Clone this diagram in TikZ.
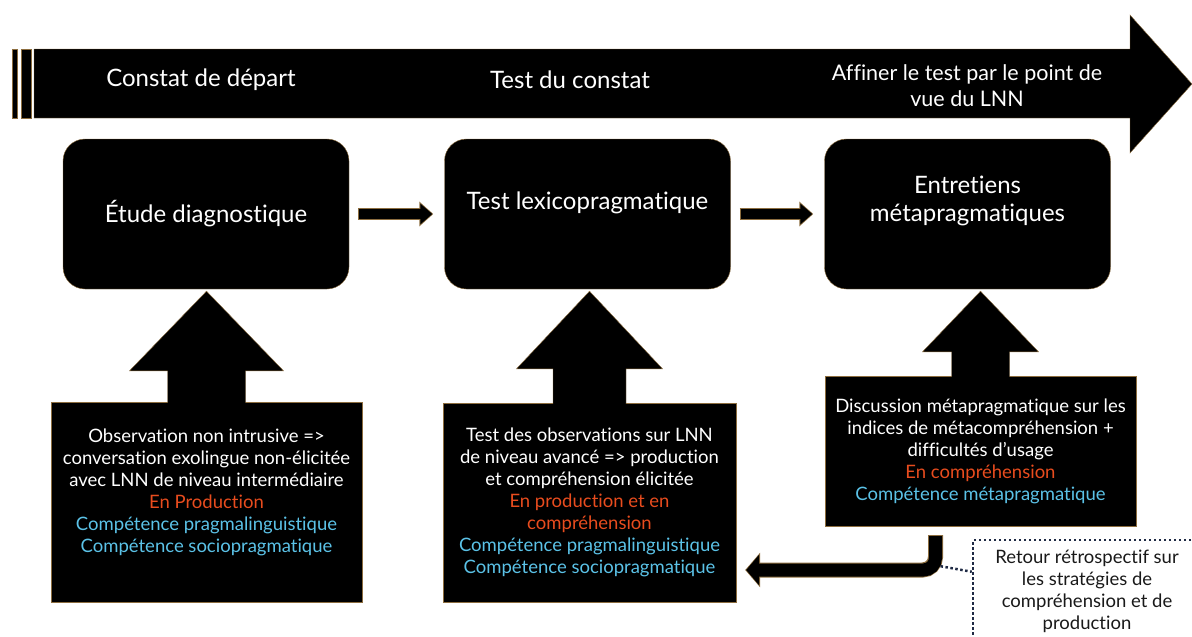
\documentclass[tikz,border=0pt]{standalone}
\usepackage{fontspec}
\setmainfont{Lato}[Ligatures=NoCommon]
\usepackage{xcolor}
\usetikzlibrary{calc, arrows.meta, positioning}

\definecolor{rim}{HTML}{8C6D3F}
\definecolor{prodred}{HTML}{E84C1E}
\definecolor{compblue}{HTML}{5BC2E7}
\definecolor{navy}{HTML}{1F2A44}

\begin{document}
\begin{tikzpicture}[x=1pt, y=-1pt,
  bandtext/.style={text=white, font=\fontsize{24}{26}\selectfont, align=center},
  steptext/.style={text=white, font=\fontsize{24}{28}\selectfont, align=center},
  stepbox/.style={draw=rim, fill=black, rounded corners=22pt, minimum width=286pt,
    minimum height=150pt, steptext},
  infotext/.style={text=white, font=\fontsize{18.5}{22}\selectfont, align=center},
  infobox/.style={draw=rim, fill=black, inner sep=0pt, infotext},
  notebox/.style={draw=navy, line width=2.5pt, dash pattern=on 2.5pt off 2.5pt,
    minimum width=228pt, minimum height=102pt, text=black!90,
    font=\fontsize{18.5}{22}\selectfont, align=center},
  fat/.style={line width=10pt, -{Triangle[length=12pt, width=20pt]},
    shorten <=10pt, shorten >=12pt},
  fatrim/.style={draw=rim, line width=12pt, -{Triangle[length=14pt, width=24pt]},
    shorten <=9pt, shorten >=11pt},
  back/.style={line width=13pt, rounded corners=12pt, -{Triangle[length=13pt, width=30pt]}},
  backrim/.style={draw=rim, line width=15pt, rounded corners=13pt,
    -{Triangle[length=15pt, width=34pt]}, shorten <=-1pt, shorten >=-1pt},
  note/.style={draw=navy, line width=2.5pt, dash pattern=on 2.5pt off 2.5pt}
]

  % Fix the page to the reference size
  \useasboundingbox (0,0) rectangle (1192,637);

  % Timeline band across the top
  \fill[black, draw=rim] (12,49) rectangle (17,118);
  \fill[black, draw=rim] (21,49) rectangle (31,118);
  \fill[black, draw=rim] (34,49) -- (1130,49) -- (1130,15) -- (1192,84)
    -- (1130,153) -- (1130,118) -- (34,118) -- cycle;

  \node[bandtext] (start)  at (201,80) {Constat de départ};
  \node[bandtext] (check)  at (570,80) {Test du constat};
  \node[bandtext, font=\fontsize{21.5}{26}\selectfont] (refine) at (967,86)
    {Affiner le test par le point de\\vue du LNN};

  % The three stages
  \node[stepbox] (diag) at (206,214) {Étude diagnostique};
  \node[stepbox, label={[steptext, yshift=11pt]center:Test lexicopragmatique}] (lexi) at (587.5,214) {};
  \node[stepbox, label={[steptext, yshift=13pt]center:Entretiens\\métapragmatiques}] (meta) at (967.5,214) {};

  % Arrows between the stages
  \foreach \a/\b in {diag/lexi, lexi/meta} {
    \draw[fatrim] (\a) -- (\b);
    \draw[fat] (\a) -- (\b);
  }

  % Details under each stage
  \node[infobox, minimum width=311pt, minimum height=200pt,
    label={[infotext, yshift=10pt]center:Observation non intrusive =>\\conversation exolingue non-élicitée\\avec LNN de niveau intermédiaire\\
     \textcolor{prodred}{En Production}\\\textcolor{compblue}{Compétence pragmalinguistique}\\
     \textcolor{compblue}{Compétence sociopragmatique}}] (obs) at (206.5,502) {};
  \node[infobox, minimum width=293pt, minimum height=199pt] (test) at (589.5,502.5)
    {Test des observations sur LNN\\de niveau avancé => production\\et compréhension élicitée\\
     \textcolor{prodred}{En production et en}\\\textcolor{prodred}{compréhension}\\
     \textcolor{compblue}{Compétence pragmalinguistique}\\\textcolor{compblue}{Compétence sociopragmatique}};
  \node[infobox, minimum width=311pt, minimum height=150pt] (disc) at (980.5,451)
    {Discussion métapragmatique sur les\\indices de métacompréhension +\\difficultés d’usage\\
     \textcolor{prodred}{En compréhension}\\\textcolor{compblue}{Compétence métapragmatique}};

  % Block arrows pointing up to the stages
  \foreach \n/\u/\s/\b/\h in {obs/diag/39/31/77, test/lexi/36.5/34/73, disc/meta/29/24/58} {
    \fill[black, draw=rim] ($(\n.north)+(-\s,1)$) -- ($(\n.north)+(-\s,-\b)$)
      -- ($(\n.north)+(-\h,-\b)$) -- ($(\n.north |- \u.south)+(0,2)$)
      -- ($(\n.north)+(\h,-\b)$) -- ($(\n.north)+(\s,-\b)$) -- ($(\n.north)+(\s,1)$);
  }

  % Looking back from the interviews
  \coordinate (bendtop) at ($(disc.south)+(-45,10)$);
  \coordinate (bendend) at ($(test.east)+(10,67.5)$);
  \draw[backrim] (bendtop) |- (bendend);
  \draw[back] (bendtop) |- (bendend);

  \node[notebox] (retour) at (1087,591)
    {Retour rétrospectif sur\\les stratégies de\\compréhension et de\\production};
  \coordinate (kink) at ($(bendtop)+(5,30)$);
  \coordinate (hook) at ($(retour.north west)+(0,33)$);
  \draw[note] (kink) -- (hook);

\end{tikzpicture}
\end{document}
